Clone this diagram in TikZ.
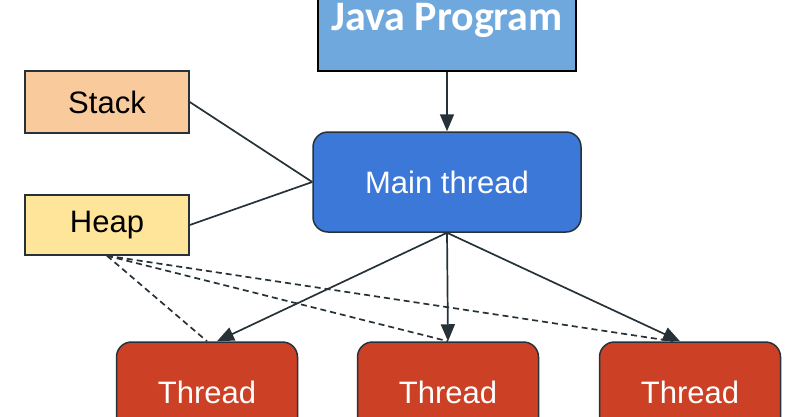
\documentclass[tikz,border=0pt]{standalone}
\usepackage{fontspec}
\setmainfont{Liberation Sans}
\newfontfamily\titlefont{Carlito}
\usepackage{tikz}
\usetikzlibrary{arrows.meta}
\definecolor{javablue}{HTML}{6FA8DC}
\definecolor{mainblue}{HTML}{3C78D8}
\definecolor{stackorange}{HTML}{F9CB9C}
\definecolor{heapyellow}{HTML}{FFE599}
\definecolor{threadred}{HTML}{CC4125}
\definecolor{linkgray}{HTML}{263238}
\tikzset{memory/.style={draw=linkgray, line width=1.5pt, fill=#1, minimum width=164pt, minimum height=62pt, font=\fontsize{31}{37}\selectfont}}
\tikzset{worker/.style={draw=linkgray, line width=1.5pt, fill=#1, rounded corners=15pt, text=white, font=\fontsize{31}{37}\selectfont}}
\tikzset{link/.style={draw=linkgray, line width=1.7pt}}
\tikzset{spawn/.style={link, -{Triangle[length=17pt, width=14pt]}}}
\tikzset{shared/.style={link, dash pattern=on 6pt off 4pt}}

\begin{document}
\begin{tikzpicture}[x=1pt, y=-1pt]
            \useasboundingbox (0, 0) rectangle (794, 416);
            \node[draw=black, line width=2pt, fill=javablue, minimum width=258pt, minimum height=140pt, anchor=south] (java) at (447, 72) {};
            \node[text=white, font=\titlefont\bfseries\fontsize{42}{50}\selectfont] (jtitle) at (447, 20) {Java Program};
            \node[worker=mainblue, minimum width=268pt, minimum height=100pt] (main) at (447, 182) {Main thread};
            \node[memory=stackorange] (stack) at (107, 102) {Stack};
            \node[memory=heapyellow, minimum height=60pt] (heap) at (107, 225) {Heap};
            \foreach \i/\x in {1/207, 2/448, 3/690} {
                \node[worker=threadred, minimum width=181pt, minimum height=100pt] (t\i) at (\x, 392) {Thread};
            }
            \draw[spawn] (java) -- (main);
            \draw[link] (stack.east) -- (main.west);
            \draw[link] (heap.east) -- (main.west);
            \draw[spawn] (main.south) -- ([xshift=10pt]t1.north);
            \draw[spawn] (main.south) -- (t2.north);
            \draw[spawn] (main.south) -- ([xshift=-10pt]t3.north);
            \draw[shared] (heap.south) -- (t1.north);
            \draw[shared] (heap.south) -- (t2.north);
            \draw[shared] (heap.south) -- ([xshift=-17pt]t3.north);
        \end{tikzpicture}
\end{document}
